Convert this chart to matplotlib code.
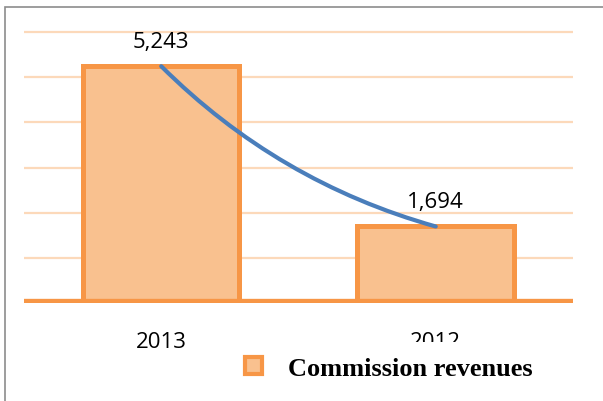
import matplotlib
matplotlib.use("Agg")
import matplotlib.pyplot as plt
from matplotlib.patches import FancyArrowPatch, Rectangle

years = ["2013", "2012"]
revenues = [5243, 1694]
series_name = "Commission revenues"
grid_values = [1000, 2000, 3000, 4000, 5000, 6000]

bar_fill = "#F9C18F"
bar_edge = "#F79646"
grid_color = "#FCD9BA"
line_color = "#4A7EBB"

fig = plt.figure(figsize=(6.03, 4.02), dpi=100)
ax = fig.add_axes([0.0398, 0.2438, 0.9104, 0.6852])

x = list(range(len(years)))
bars = ax.bar(x, revenues, width=0.57, color=bar_fill, edgecolor=bar_edge,
              linewidth=3.6, zorder=3, label=series_name)

for g in grid_values:
    ax.axhline(g, color=grid_color, lw=1.6, zorder=1)
ax.axhline(0, color=bar_edge, lw=6, zorder=4, solid_capstyle="butt")

# curved trend line between the two bar tops
trend = FancyArrowPatch((x[0], revenues[0]), (x[1], revenues[1]),
                        connectionstyle="arc3,rad=0.13", arrowstyle="-",
                        color=line_color, lw=3, zorder=5, shrinkA=0, shrinkB=0,
                        capstyle="round")
ax.add_patch(trend)

for xi, v in zip(x, revenues):
    ax.annotate(f"{v:,}", (xi, v), xytext=(0, 18), textcoords="offset points",
                ha="center", va="center", fontsize=16, family="Open Sans",
                color="black", zorder=6)

ax.set_xlim(-0.5, 1.5)
ax.set_ylim(0, 6100)
ax.set_xticks(x)
ax.set_xticklabels(years, fontsize=16, family="Open Sans", color="black")
ax.tick_params(axis="x", length=0, pad=20)
ax.set_yticks([])
for s in ax.spines.values():
    s.set_visible(False)

leg = ax.legend(loc="center left", bbox_to_anchor=(0.383, 0.082),
                bbox_transform=fig.transFigure, frameon=True,
                prop={"family": "Liberation Serif", "weight": "bold", "size": 19},
                handlelength=0.62, handleheight=0.62, handletextpad=1.0,
                borderpad=0.55, borderaxespad=0, fancybox=False)
leg.get_frame().set_facecolor("white")
leg.get_frame().set_edgecolor("none")
leg.get_frame().set_alpha(1)
for h in leg.legend_handles:
    h.set_linewidth(3)

fig.add_artist(Rectangle((0.0083, -0.05), 1.2, 1.03,
                         transform=fig.transFigure, fill=False,
                         edgecolor="#8C8C8C", lw=1.2))

fig.savefig("out.png", dpi=100)
